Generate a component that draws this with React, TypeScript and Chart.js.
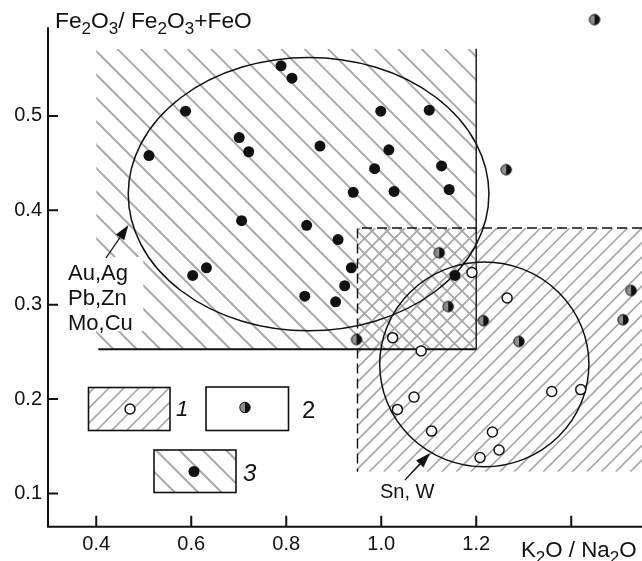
import React, { useEffect, useRef } from 'react';
import { Chart, registerables } from 'chart.js';

Chart.register(...registerables);

const FONT = "'Liberation Sans', Arial, sans-serif";

// Axis ticks
const xTicks = [0.4, 0.6, 0.8, 1.0, 1.2, 1.4];
const xTickLabels = ['0.4', '0.6', '0.8', '1.0', '1.2', ''];
const yTicks = [0.1, 0.2, 0.3, 0.4, 0.5];
const yTickLabels = ['0.1', '0.2', '0.3', '0.4', '0.5'];

// Axis range
const X_MIN = 0.2984;
const X_MAX = 1.5353;
const Y_MIN = 0.0647;
const Y_MAX = 0.6159;
const Y_AXIS_TOP = 0.594;

// Series 3 (filled circles) – Au, Ag, Pb, Zn, Mo, Cu
const filledX = [0.789, 0.812, 0.588, 0.511, 0.701, 0.721, 0.871, 0.706, 0.843, 0.632, 0.603, 0.999, 1.101, 1.016, 0.986, 1.127, 0.941, 1.027, 1.143, 0.909, 0.937, 1.155, 0.839, 0.923, 0.904];
const filledY = [0.553, 0.540, 0.505, 0.458, 0.477, 0.462, 0.468, 0.389, 0.384, 0.339, 0.331, 0.505, 0.506, 0.464, 0.444, 0.447, 0.419, 0.420, 0.422, 0.369, 0.339, 0.331, 0.309, 0.320, 0.303];

// Series 2 (half-filled circles)
const halfX = [1.449, 1.263, 1.122, 1.141, 1.215, 1.290, 0.948, 1.526, 1.509];
const halfY = [0.602, 0.443, 0.355, 0.298, 0.283, 0.261, 0.263, 0.315, 0.284];

// Series 1 (open circles) – Sn, W
const openX = [1.191, 1.265, 1.024, 1.084, 1.069, 1.034, 1.106, 1.234, 1.248, 1.208, 1.359, 1.420];
const openY = [0.334, 0.307, 0.265, 0.251, 0.202, 0.189, 0.166, 0.165, 0.146, 0.138, 0.208, 0.210];

// Fields
const fieldAuX = [0.4, 1.2];
const fieldAuY = [0.2528, 0.571];
const fieldSnX = [0.95, 1.6];
const fieldSnY = [0.1229, 0.3812];
// Ellipses: cx, cy, rx, ry
const ellipseAu = [0.847, 0.4171, 0.3797, 0.1448];
const ellipseSn = [1.217, 0.2367, 0.2202, 0.1085];

const HATCH = '#a8a8a8';

function hatchLines(ctx: CanvasRenderingContext2D, x0: number, y0: number, x1: number, y1: number, dir: string, spacing: number, phase: number) {
  if (dir === '\\') {
    const cmin = x0 - y1, cmax = x1 - y0;
    for (let c = Math.floor((cmin - phase) / spacing) * spacing + phase; c <= cmax; c += spacing) {
      ctx.moveTo(c + y0, y0);
      ctx.lineTo(c + y1, y1);
    }
  } else {
    const cmin = x0 + y0, cmax = x1 + y1;
    for (let c = Math.floor((cmin - phase) / spacing) * spacing + phase; c <= cmax; c += spacing) {
      ctx.moveTo(c - y0, y0);
      ctx.lineTo(c - y1, y1);
    }
  }
}

function hatchRect(ctx: CanvasRenderingContext2D, r: number[], dir: string, spacing: number, width: number, phase = 0, exclude?: number[]) {
  const [x0, y0, x1, y1] = r;
  ctx.save();
  ctx.beginPath();
  ctx.rect(x0, y0, x1 - x0, y1 - y0);
  if (exclude) ctx.rect(exclude[0], exclude[1], exclude[2] - exclude[0], exclude[3] - exclude[1]);
  ctx.clip('evenodd');
  ctx.strokeStyle = HATCH;
  ctx.lineWidth = width;
  ctx.beginPath();
  hatchLines(ctx, x0, y0, x1, y1, dir, spacing, phase);
  ctx.stroke();
  ctx.restore();
}

function drawSubText(ctx: CanvasRenderingContext2D, parts: [string, boolean][], x: number, y: number, size: number, subSize: number, subDy: number) {
  let cx = x;
  ctx.fillStyle = '#111';
  ctx.textAlign = 'left';
  ctx.textBaseline = 'alphabetic';
  for (const [t, sub] of parts) {
    ctx.font = `${sub ? subSize : size}px ${FONT}`;
    ctx.fillText(t, cx, sub ? y + subDy : y);
    cx += ctx.measureText(t).width;
  }
}

function arrow(ctx: CanvasRenderingContext2D, tx: number, ty: number, hx: number, hy: number) {
  const ang = Math.atan2(hy - ty, hx - tx);
  const len = 15, half = 5;
  const bx = hx - len * Math.cos(ang), by = hy - len * Math.sin(ang);
  ctx.save();
  ctx.strokeStyle = '#111';
  ctx.fillStyle = '#111';
  ctx.lineWidth = 1.3;
  ctx.beginPath();
  ctx.moveTo(tx, ty);
  ctx.lineTo(bx, by);
  ctx.stroke();
  ctx.beginPath();
  ctx.moveTo(hx, hy);
  ctx.lineTo(bx + half * Math.sin(ang), by - half * Math.cos(ang));
  ctx.lineTo(bx - half * Math.sin(ang), by + half * Math.cos(ang));
  ctx.closePath();
  ctx.fill();
  ctx.restore();
}

function drawFilled(ctx: CanvasRenderingContext2D, x: number, y: number) {
  ctx.beginPath();
  ctx.arc(x, y, 5.5, 0, Math.PI * 2);
  ctx.fillStyle = '#111';
  ctx.fill();
}

function drawOpen(ctx: CanvasRenderingContext2D, x: number, y: number) {
  ctx.beginPath();
  ctx.arc(x, y, 5, 0, Math.PI * 2);
  ctx.fillStyle = '#fff';
  ctx.fill();
  ctx.lineWidth = 1.5;
  ctx.strokeStyle = '#111';
  ctx.stroke();
}

function drawHalf(ctx: CanvasRenderingContext2D, x: number, y: number) {
  ctx.beginPath();
  ctx.arc(x, y, 5.2, Math.PI / 2, Math.PI * 1.5);
  ctx.closePath();
  ctx.fillStyle = '#8f8f8f';
  ctx.fill();
  ctx.beginPath();
  ctx.arc(x, y, 5.2, -Math.PI / 2, Math.PI / 2);
  ctx.closePath();
  ctx.fillStyle = '#111';
  ctx.fill();
  ctx.beginPath();
  ctx.arc(x, y, 5.2, 0, Math.PI * 2);
  ctx.lineWidth = 1;
  ctx.strokeStyle = '#111';
  ctx.stroke();
}

function makeHalfImage() {
  const c = document.createElement('canvas');
  c.width = 14;
  c.height = 14;
  const g = c.getContext('2d')!;
  drawHalf(g, 7, 7);
  return c;
}

const overlayPlugin = {
  id: 'overlay',
  beforeDatasetsDraw(chart: any) {
    const ctx: CanvasRenderingContext2D = chart.ctx;
    const xs = chart.scales.x, ys = chart.scales.y;
    const px = (v: number) => xs.getPixelForValue(v);
    const py = (v: number) => ys.getPixelForValue(v);
    const area = chart.chartArea;
    const W = chart.width;

    const rA = [px(fieldAuX[0]), py(fieldAuY[1]), px(fieldAuX[1]), py(fieldAuY[0])];
    const rB = [px(fieldSnX[0]), py(fieldSnY[1]), Math.min(px(fieldSnX[1]), W), py(fieldSnY[0])];
    const rO = [rB[0], rB[1], rA[2], rA[3]];

    // field hatching
    hatchRect(ctx, rA, '\\', 23.4, 2, 21.7, rO);
    hatchRect(ctx, rB, '/', 14.5, 1.7, 0, rO);
    hatchRect(ctx, rO, '/', 15, 1.8, 3);
    hatchRect(ctx, rO, '\\', 15, 1.8, 6);

    // white patch behind the Au label
    ctx.fillStyle = '#fff';
    ctx.fillRect(rA[0] - 1, 257, 48, 74);

    // field borders
    ctx.save();
    ctx.strokeStyle = '#222';
    ctx.lineWidth = 1.5;
    ctx.beginPath();
    ctx.moveTo(rA[2], rA[1]);
    ctx.lineTo(rA[2], rA[3]);
    ctx.stroke();
    ctx.strokeStyle = '#111';
    ctx.lineWidth = 2;
    ctx.beginPath();
    ctx.moveTo(rA[0] + 2, rA[3]);
    ctx.lineTo(rA[2], rA[3]);
    ctx.stroke();
    ctx.lineWidth = 1.4;
    ctx.setLineDash([10, 5]);
    ctx.beginPath();
    ctx.moveTo(rB[2], rB[1]);
    ctx.lineTo(rB[0], rB[1]);
    ctx.lineTo(rB[0], rB[3]);
    ctx.stroke();
    ctx.setLineDash([]);

    // ellipses
    ctx.lineWidth = 1.5;
    ctx.strokeStyle = '#111';
    for (const e of [ellipseAu, ellipseSn]) {
      const cx = px(e[0]), cy = py(e[1]);
      const rx = px(e[0] + e[2]) - cx, ry = cy - py(e[1] + e[3]);
      ctx.beginPath();
      ctx.ellipse(cx, cy, rx, ry, 0, 0, Math.PI * 2);
      ctx.stroke();
    }
    ctx.restore();

    // arrows
    arrow(ctx, 106, 258, 128.5, 225);
    arrow(ctx, 405, 480, 430, 453);

    // labels
    ctx.fillStyle = '#111';
    ctx.textAlign = 'left';
    ctx.textBaseline = 'alphabetic';
    ctx.font = `22px ${FONT}`;
    ctx.fillText('Au,Ag', 68, 280);
    ctx.fillText('Pb,Zn', 68, 305);
    ctx.fillText('Mo,Cu', 68, 330);
    ctx.font = `20px ${FONT}`;
    ctx.fillText('Sn, W', 380, 498);

    // legend boxes
    const boxes = [
      [88.5, 387.5, 170, 430.5],
      [206, 387, 288.5, 430.5],
      [154, 450, 236, 492.5],
    ];
    hatchRect(ctx, boxes[0], '/', 15, 1.7, 2);
    hatchRect(ctx, boxes[2], '\\', 23.4, 2, 10);
    ctx.save();
    ctx.strokeStyle = '#111';
    ctx.lineWidth = 1.6;
    for (const b of boxes) ctx.strokeRect(b[0], b[1], b[2] - b[0], b[3] - b[1]);
    ctx.restore();
    drawOpen(ctx, 130, 409);
    drawHalf(ctx, 245, 407.5);
    drawFilled(ctx, 194, 471.5);
    ctx.fillStyle = '#111';
    ctx.font = `italic 22px ${FONT}`;
    ctx.fillText('1', 176, 416);
    ctx.font = `24px ${FONT}`;
    ctx.fillText('2', 302, 418);
    ctx.font = `italic 24px ${FONT}`;
    ctx.fillText('3', 243, 481);

    // axes
    ctx.save();
    ctx.strokeStyle = '#111';
    ctx.lineWidth = 2;
    ctx.beginPath();
    ctx.moveTo(area.left, py(Y_AXIS_TOP));
    ctx.lineTo(area.left, area.bottom);
    ctx.lineTo(W, area.bottom);
    ctx.stroke();
    ctx.beginPath();
    for (const v of yTicks) {
      ctx.moveTo(area.left, py(v));
      ctx.lineTo(area.left + 10, py(v));
    }
    for (const v of xTicks) {
      ctx.moveTo(px(v), area.bottom);
      ctx.lineTo(px(v), area.bottom - 11);
    }
    ctx.stroke();
    ctx.restore();

    // axis titles
    drawSubText(ctx, [['Fe', false], ['2', true], ['O', false], ['3', true], ['/ Fe', false], ['2', true], ['O', false], ['3', true], ['+FeO', false]], 55, 28, 22.8, 17, 6);
    drawSubText(ctx, [['K', false], ['2', true], ['O / Na', false], ['2', true], ['O', false]], 521, 556.5, 22.3, 17, 6);
  },
};

export default function App() {
  const ref = useRef<HTMLCanvasElement | null>(null);
  useEffect(() => {
    if (!ref.current) return;
    const halfImg = makeHalfImage();
    const toPts = (xs: number[], ys: number[]) => xs.map((x, i) => ({ x, y: ys[i] }));
    const zeroPad = (s: any) => {
      s.paddingTop = 0;
      s.paddingBottom = 0;
      s.paddingLeft = 0;
      s.paddingRight = 0;
    };
    const chart = new Chart(ref.current, {
      type: 'scatter',
      data: {
        datasets: [
          {
            label: '3',
            data: toPts(filledX, filledY),
            pointStyle: 'circle',
            pointRadius: 5.5,
            backgroundColor: '#111',
            borderColor: '#111',
            borderWidth: 0,
            clip: false,
          },
          {
            label: '2',
            data: toPts(halfX, halfY),
            pointStyle: halfImg as any,
            pointRadius: 5.5,
            clip: false,
          },
          {
            label: '1',
            data: toPts(openX, openY),
            pointStyle: 'circle',
            pointRadius: 5,
            backgroundColor: '#fff',
            borderColor: '#111',
            borderWidth: 1.5,
            clip: false,
          },
        ],
      },
      options: {
        animation: false,
        responsive: false,
        maintainAspectRatio: false,
        layout: { padding: 0 },
        plugins: {
          legend: { display: false },
          tooltip: { enabled: false },
          title: { display: false },
        },
        scales: {
          x: {
            type: 'linear',
            min: X_MIN,
            max: X_MAX,
            grid: { display: false, drawTicks: false },
            border: { display: false },
            afterBuildTicks: (s: any) => {
              s.ticks = xTicks.map((v) => ({ value: v }));
            },
            afterFit: (s: any) => {
              s.height = 34.3;
              zeroPad(s);
            },
            ticks: {
              callback: (_v: any, i: number) => xTickLabels[i],
              font: { family: FONT, size: 20 },
              color: '#111',
              padding: 6,
              maxRotation: 0,
              autoSkip: false,
            },
          },
          y: {
            type: 'linear',
            min: Y_MIN,
            max: Y_MAX,
            grid: { display: false, drawTicks: false },
            border: { display: false },
            afterBuildTicks: (s: any) => {
              s.ticks = yTicks.map((v) => ({ value: v }));
            },
            afterFit: (s: any) => {
              s.width = 48;
              zeroPad(s);
            },
            ticks: {
              callback: (_v: any, i: number) => yTickLabels[i],
              font: { family: FONT, size: 20 },
              color: '#111',
              padding: 6,
              autoSkip: false,
            },
          },
        },
      },
      plugins: [overlayPlugin],
    });
    return () => chart.destroy();
  }, []);
  return (
    <div style={{ position: 'fixed', left: 0, top: 0, width: 642, height: 561, background: '#fff' }}>
      <canvas ref={ref} width={642} height={561} style={{ display: 'block' }} />
    </div>
  );
}
